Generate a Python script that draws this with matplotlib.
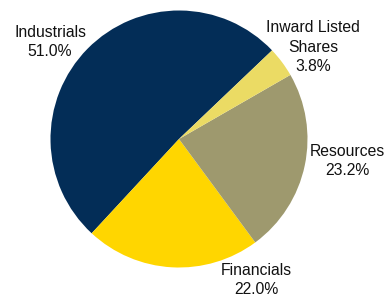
import numpy as np
import matplotlib
matplotlib.use("Agg")
import matplotlib.pyplot as plt

# slices in counter-clockwise drawing order
labels = ["Industrials", "Financials", "Resources", "Inward Listed\nShares"]
values = [51.0, 22.0, 23.2, 3.8]
colors = ["#032D57", "#FFD600", "#9E996E", "#EBDB64"]

W, H = 386, 294
cx, cy, r = 179, 139, 128.5  # pixel centre and radius of the pie

fig = plt.figure(figsize=(W / 100, H / 100), dpi=100)
ax = fig.add_axes([(cx - r) / W, (H - cy - r) / H, 2 * r / W, 2 * r / H])
ax.pie(values, colors=colors, startangle=43.6, counterclock=True,
       radius=1.0, wedgeprops=dict(linewidth=0))
ax.set_xlim(-1, 1)
ax.set_ylim(-1, 1)
ax.set_aspect("equal")
ax.axis("off")

# label block centres in pixels (x, y from top)
label_pos = [(50, 42), (256, 280), (347, 161), (313, 47)]
for lab, v, (px, py) in zip(labels, values, label_pos):
    ax.text((px - cx) / r, (cy - py) / r, f"{lab}\n{v:.1f}%",
            ha="center", va="center", fontsize=11.3, family="Liberation Sans",
            color="#111111", linespacing=1.4, clip_on=False)

fig.savefig("out.png", dpi=100)
